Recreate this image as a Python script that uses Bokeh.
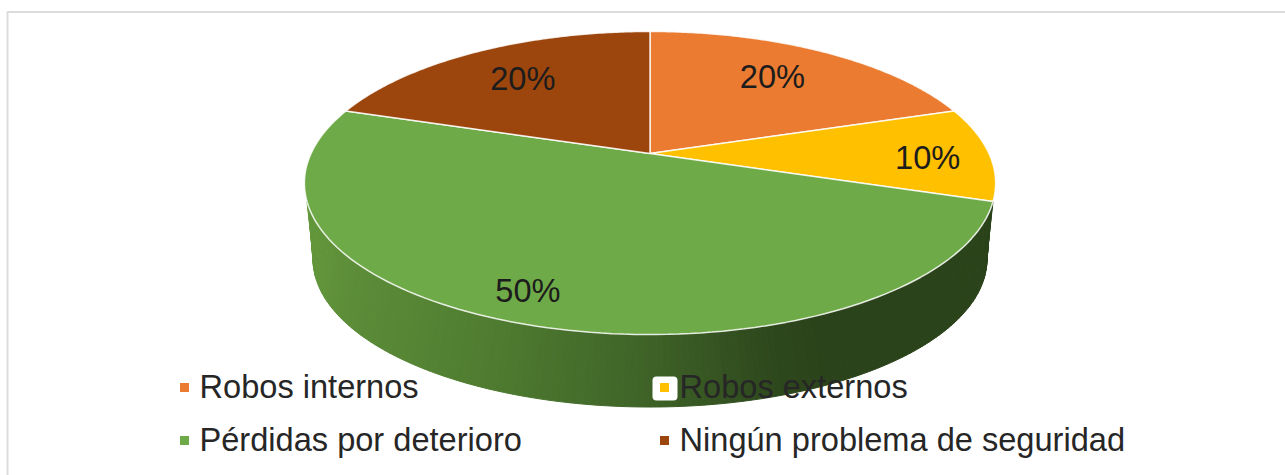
import numpy as np
from bokeh.plotting import figure
from bokeh.embed import file_html
from bokeh.resources import INLINE
from bokeh.core.properties import value

categories = ["Robos internos", "Robos externos", "Pérdidas por deterioro", "Ningún problema de seguridad"]
shares = [20, 10, 50, 20]
labels = ["20%", "10%", "50%", "20%"]
colors = ["#ea7b31", "#ffc000", "#6faa48", "#9c450c"]

# layout of the projected pie (reference pixels)
W, H = 1285, 475
CX, CY = 649.5, 153.0
BX, AY, K = 339.0, 145.8, 0.1947
BOTTOM_CY, BOTTOM_S = 230.0, 0.975
FONT = value("Liberation Sans")
FS = "32.6px"


def project(theta_deg, r=1.0, cy=CY, s=1.0):
    t = np.radians(theta_deg)
    w = 1 + K * r * np.cos(t)
    return CX + s * BX * r * np.sin(t) / w, cy - s * AY * r * np.cos(t) / w


p = figure(width=W, height=H, x_range=(0, W), y_range=(H, 0), toolbar_location=None,
           output_backend="svg", min_border=0, outline_line_color=None, background_fill_color="white")
p.xaxis.visible = False
p.yaxis.visible = False
p.grid.visible = False

# frame
p.line([7, 7, W], [H, 11.5, 11.5], line_color="#dcdcdc", line_width=2)

# wedge boundaries
edges = np.concatenate([[0], np.cumsum(shares)]) / sum(shares) * 360.0
mids = (edges[:-1] + edges[1:]) / 2

# side wall of the wedge that faces the viewer (largest share)
front = int(np.argmax(shares))
t0, t1 = edges[front], 252.0
n = 170
tt = np.linspace(t0, t1, n + 1)
bt = np.linspace(100.0, 260.0, n + 1)
xt, yt = project(tt)
xb, yb = project(bt, cy=BOTTOM_CY, s=BOTTOM_S)
stops_x = [300, 345, 500, 640, 780, 830, 1000]
stops_r = [102, 92, 78, 63, 46, 43, 43]
stops_g = [155, 141, 122, 100, 72, 67, 67]
stops_b = [62, 56, 48, 40, 29, 26, 26]
xs, ys, cs = [], [], []
for i in range(n):
    xs.append([xt[i], xt[i + 1], xb[i + 1], xb[i]])
    ys.append([yt[i], yt[i + 1], yb[i + 1], yb[i]])
    m = (xb[i] + xb[i + 1]) / 2
    cs.append("#%02x%02x%02x" % (int(np.interp(m, stops_x, stops_r)), int(np.interp(m, stops_x, stops_g)),
                                 int(np.interp(m, stops_x, stops_b))))
p.patches(xs, ys, fill_color=cs, line_color=cs, line_width=1)

# top faces
for i, c in enumerate(colors):
    th = np.linspace(edges[i], edges[i + 1], 120)
    x, y = project(th)
    p.patch(np.r_[CX, x], np.r_[CY, y], fill_color=c, line_color="white", line_width=1.5, line_alpha=0.85)

# data labels
label_r = [0.71, 0.815, 0.85, 0.71]
label_shift = [-1.5, 2, 3, 0]
for i, t in enumerate(labels):
    lx, ly = project(mids[i] + label_shift[i], r=label_r[i])
    p.text([lx], [ly], text=[t], text_font=FONT, text_font_size=FS, text_color="#1c1c1c",
           text_align="center", text_baseline="middle")

# legend
col_x = [184, 664]
row_y = [387, 440]
for i, cat in enumerate(categories):
    mx, my = col_x[i % 2], row_y[i // 2]
    if i == 1:
        p.quad(left=[mx - 12], right=[mx + 13], top=[my - 11], bottom=[my + 13], fill_color="white",
               line_color=None, border_radius=4)
    p.scatter([mx], [my], marker="square", size=9, fill_color=colors[i], line_color=None)
    p.text([mx + 15], [my - 1], text=[cat], text_font=FONT, text_font_size=FS, text_color="#262626",
           text_align="left", text_baseline="middle")

open("out.html", "w").write(file_html(p, INLINE))
